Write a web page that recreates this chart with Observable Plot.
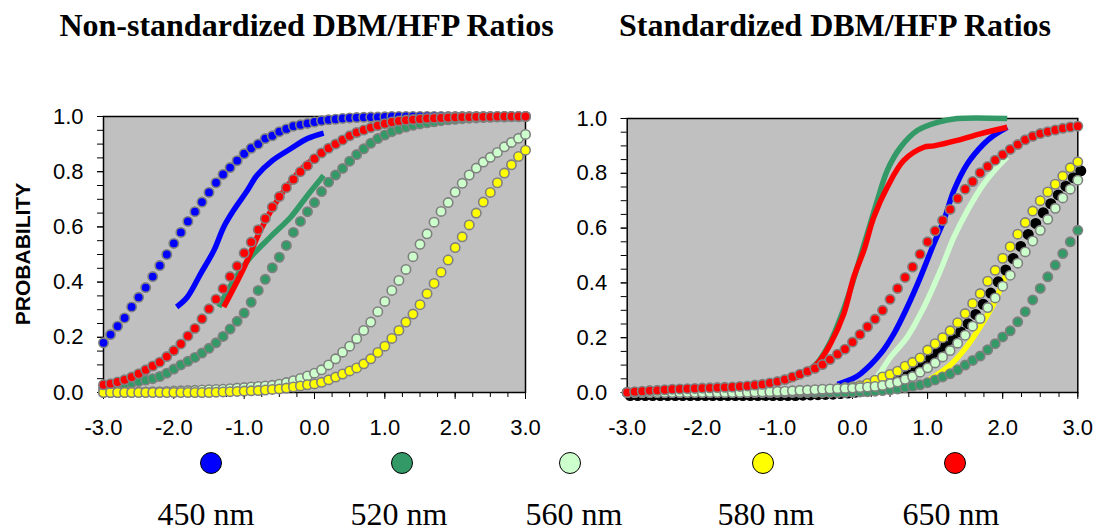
<!DOCTYPE html>
<html><head><meta charset="utf-8">
<script src="https://cdn.jsdelivr.net/npm/d3@7"></script>
<script src="https://cdn.jsdelivr.net/npm/@observablehq/plot@0.6"></script>
<style>
body{margin:0;background:#fff;}
#wrap{position:relative;width:1097px;height:531px;overflow:hidden;font-family:"Liberation Serif","Times New Roman",serif;color:#000;}
.title{position:absolute;top:9px;font-weight:bold;font-size:32px;line-height:32px;white-space:nowrap;transform:translateX(-50%);}
.panel{position:absolute;top:0;}
.ylab{position:absolute;left:22px;top:254px;transform:translate(-50%,-50%) rotate(-90deg);font-family:"Liberation Sans",Arial,sans-serif;font-weight:bold;font-size:21px;line-height:21px;white-space:nowrap;}
.sw{position:absolute;width:20px;height:20px;border:1.5px solid #000;border-radius:50%;top:451.5px;}
.lab{position:absolute;top:498px;width:200px;text-align:center;font-size:32px;line-height:32px;white-space:nowrap;}
</style>
</head><body>
<div id="wrap"></div>
<script>
// ---- axis ticks ----
const xTicks = [-3, -2, -1, 0, 1, 2, 3];
const xMinor = [-3,-2.75,-2.5,-2.25,-2,-1.75,-1.5,-1.25,-1,-0.75,-0.5,-0.25,0,0.25,0.5,0.75,1,1.25,1.5,1.75,2,2.25,2.5,2.75,3];
const yTicks = [0, 0.2, 0.4, 0.6, 0.8, 1.0];
const yMinor = [0,0.05,0.1,0.15,0.2,0.25,0.3,0.35,0.4,0.45,0.5,0.55,0.6,0.65,0.7,0.75,0.8,0.85,0.9,0.95,1];

// ---- categories ----
const titles = ["Non-standardized DBM/HFP Ratios", "Standardized DBM/HFP Ratios"];
const yLabel = "PROBABILITY";
const wavelengths = ["450 nm", "520 nm", "560 nm", "580 nm", "650 nm"];
const colors = ["#0000ff", "#339966", "#ccffcc", "#ffff00", "#ff0000"];

// ---- dot x positions (z-score) ----
const xs = [-3.0,-2.9,-2.8,-2.7,-2.6,-2.5,-2.4,-2.3,-2.2,-2.1,
  -2.0,-1.9,-1.8,-1.7,-1.6,-1.5,-1.4,-1.3,-1.2,-1.1,
  -1.0,-0.9,-0.8,-0.7,-0.6,-0.5,-0.4,-0.3,-0.2,-0.1,
  0.0,0.1,0.2,0.3,0.4,0.5,0.6,0.7,0.8,0.9,
  1.0,1.1,1.2,1.3,1.4,1.5,1.6,1.7,1.8,1.9,
  2.0,2.1,2.2,2.3,2.4,2.5,2.6,2.7,2.8,2.9,
  3.0];

// ---- left panel dots ----
const L450 = [.18,.21,.24,.27,.31,.345,.38,.42,.46,.50,
  .54,.58,.62,.655,.69,.725,.76,.79,.815,.84,
  .865,.885,.90,.92,.93,.945,.955,.965,.97,.975,
  .98,.985,.988,.99,.993,.995,.996,.997,.998,.998,
  .999,1,1,1,1,1,1,1,1,1,
  1,1,1,1,1,1,1,1,1,1,
  1];
const L520 = [.015,.02,.025,.03,.035,.04,.045,.05,.058,.07,
  .085,.10,.113,.127,.143,.16,.18,.203,.23,.258,
  .288,.327,.37,.41,.452,.49,.533,.58,.62,.655,
  .688,.728,.762,.788,.812,.838,.862,.883,.903,.92,
  .933,.945,.954,.962,.968,.973,.977,.981,.985,.988,
  .99,.992,.994,.995,.996,.997,.998,.998,.999,.999,
  1];
const L560 = [0,0,0,.001,.001,.002,.002,.003,.003,.004,
  .005,.006,.007,.008,.009,.01,.011,.012,.014,.016,
  .018,.02,.022,.024,.026,.03,.036,.043,.051,.06,
  .07,.082,.1,.122,.146,.168,.195,.225,.255,.293,
  .33,.37,.406,.446,.492,.537,.575,.617,.656,.688,
  .726,.758,.788,.813,.835,.852,.87,.89,.906,.921,
  .935];
const L580 = [0,0,0,0,0,0,0,0,0,0,
  0,0,0,0,0,0,.001,.002,.003,.004,
  .005,.006,.007,.009,.011,.013,.016,.02,.024,.028,
  .031,.037,.046,.056,.067,.078,.089,.104,.122,.145,
  .168,.196,.225,.255,.284,.318,.358,.395,.436,.48,
  .525,.564,.607,.65,.69,.725,.76,.795,.825,.855,
  .878];
const L650 = [.028,.032,.038,.046,.056,.068,.082,.096,.11,.13,
  .152,.176,.205,.232,.267,.303,.338,.376,.42,.458,
  .505,.545,.59,.63,.672,.71,.742,.772,.80,.822,
  .847,.868,.885,.90,.915,.93,.942,.951,.96,.967,
  .974,.98,.984,.987,.989,.991,.993,.994,.995,.996,
  .997,.998,.998,.999,.999,.999,1,1,1,1,
  1];

// ---- right panel dots ----
const R520 = [0,0,0,0,0,0,0,0,0,0,
  0,0,0,0,0,0,0,0,0,0,
  0,0,0,0,0,0,0,0,0,0,
  .001,.002,.003,.005,.007,.01,.013,.018,.022,.028,
  .036,.046,.057,.068,.083,.1,.117,.133,.156,.178,
  .203,.225,.258,.295,.338,.38,.422,.465,.507,.55,
  .592];
const R560 = [0,0,0,0,0,0,0,0,0,0,
  0,0,0,0,0,0,.001,.002,.002,.003,
  .004,.005,.006,.008,.009,.01,.012,.013,.014,.015,
  .016,.018,.02,.022,.026,.032,.038,.048,.058,.074,
  .09,.108,.13,.153,.18,.209,.242,.27,.31,.345,
  .388,.428,.472,.513,.553,.592,.632,.672,.71,.742,
  .775];
const R580 = [0,0,0,0,0,0,0,0,0,0,
  0,0,0,0,0,0,0,0,0,0,
  .002,.003,.004,.005,.006,.008,.01,.012,.015,.018,
  .021,.025,.033,.045,.057,.066,.078,.096,.11,.126,
  .155,.178,.20,.225,.255,.288,.325,.361,.406,.446,
  .49,.532,.578,.62,.662,.70,.732,.76,.79,.82,
  .842];
const R650 = [0,.003,.005,.007,.008,.01,.012,.013,.014,.015,
  .016,.017,.018,.019,.02,.022,.024,.027,.03,.035,
  .04,.047,.057,.067,.077,.088,.102,.12,.14,.158,
  .184,.212,.24,.268,.30,.34,.38,.42,.458,.505,
  .55,.59,.628,.668,.708,.742,.77,.802,.825,.848,
  .868,.887,.905,.922,.935,.945,.952,.958,.964,.969,
  .972];
const RBlack = [0,0,0,0,0,0,0,0,0,0,
  0,0,0,0,0,0,0,0,0,0,
  0,0,0,.001,.002,.003,.004,.005,.007,.009,
  .012,.016,.022,.03,.04,.05,.06,.075,.09,.108,
  .135,.158,.18,.205,.232,.262,.296,.333,.374,.415,
  .458,.5,.544,.588,.628,.667,.7,.732,.764,.795,
  .82];

// ---- left panel lines ----
const lineL450x = [-1.96,-1.81,-1.62,-1.43,-1.29,-1.15,-0.96,-0.82,-0.60,-0.34,-0.10,0.13];
const lineL450p = [0.31,0.345,0.43,0.515,0.60,0.66,0.73,0.786,0.84,0.883,0.92,0.94];
const lineL520x = [-1.36,-1.15,-0.91,-0.63,-0.34,-0.10,0.13];
const lineL520p = [0.31,0.405,0.49,0.563,0.635,0.714,0.786];
const lineL650x = [-1.29,-1.0,-0.77,-0.53,-0.29,-0.10,0.05];
const lineL650p = [0.31,0.454,0.587,0.696,0.78,0.83,0.855];

// ---- right panel lines ----
const lineR450x = [-0.2,0.0,0.107,0.373,0.55,0.728,0.905,1.083,1.216,1.35,1.53,1.75,1.88,2.06];
const lineR450p = [0.03,0.05,0.068,0.141,0.214,0.311,0.421,0.543,0.628,0.737,0.835,0.908,0.938,0.968];
const lineR520x = [-0.9,-0.7,-0.47,-0.3,-0.13,0.0,0.062,0.196,0.33,0.462,0.64,0.862,1.13,1.394,2.06];
const lineR520p = [0.04,0.062,0.108,0.182,0.295,0.40,0.457,0.579,0.70,0.81,0.895,0.956,0.986,1.0,1.0];
const lineR560x = [0.1,0.3,0.506,0.728,0.95,1.17,1.35,1.53,1.75,1.93,2.06];
const lineR560p = [0.02,0.05,0.129,0.202,0.311,0.445,0.567,0.664,0.762,0.822,0.859];
const lineR580x = [0.5,0.9,1.1,1.3,1.5,1.7,1.88,2.0,2.06];
const lineR580p = [0.01,0.03,0.06,0.1,0.16,0.24,0.324,0.40,0.44];
const lineR650x = [-0.9,-0.7,-0.47,-0.293,-0.116,0.017,0.15,0.284,0.462,0.683,0.95,1.083,1.394,1.7,2.06];
const lineR650p = [0.04,0.062,0.105,0.178,0.287,0.421,0.518,0.64,0.749,0.847,0.895,0.90,0.92,0.944,0.968];

const pairs = (X, P) => X.map((x, i) => ({x, p: P[i]}));
const fmt = d => d.toFixed(1);

function panel({width, marginLeft, marginRight, marginTop, lines, dots}) {
  return Plot.plot({
    width, height: 450, marginLeft, marginRight, marginTop, marginBottom: 58,
    x: {domain: [-3, 3]},
    y: {domain: [0, 1]},
    style: {fontFamily: "'Liberation Sans', Arial, sans-serif", background: "transparent", overflow: "visible", color: "#000"},
    marks: [
      Plot.frame({fill: "#c0c0c0"}),
      Plot.frame({stroke: "#000", strokeWidth: 1.5}),
      Plot.axisY({ticks: yMinor, tickSize: 6, tickFormat: () => "", label: null}),
      Plot.axisY({ticks: yTicks, tickSize: 6, tickPadding: 14, tickFormat: fmt, fontSize: 22, label: null}),
      Plot.axisX({ticks: xMinor, tickSize: 5, tickFormat: () => "", label: null}),
      Plot.axisX({ticks: xTicks, tickSize: 7, tickPadding: 20, tickFormat: fmt, fontSize: 22, label: null}),
      ...lines.map(l => Plot.line(pairs(l.x, l.p), {x: "x", y: "p", stroke: l.color, strokeWidth: 5.5, curve: "catmull-rom", strokeLinecap: "butt", strokeLinejoin: "round"})),
      ...dots.map(d => Plot.dot(pairs(xs, d.p), {x: "x", y: "p", r: 4.7, fill: d.color, stroke: d.stroke || "#808080", strokeWidth: 1.6, dx: d.dx || 0, dy: d.dy || 0}))
    ]
  });
}

const wrap = document.getElementById("wrap");

const left = panel({
  width: 545, marginLeft: 103, marginRight: 20, marginTop: 116,
  lines: [
    {x: lineL450x, p: lineL450p, color: colors[0]},
    {x: lineL520x, p: lineL520p, color: colors[1]},
    {x: lineL650x, p: lineL650p, color: colors[4]}
  ],
  dots: [
    {p: L450, color: colors[0]},
    {p: L520, color: colors[1]},
    {p: L560, color: colors[2]},
    {p: L580, color: colors[3]},
    {p: L650, color: colors[4]}
  ]
});
const right = panel({
  width: 557, marginLeft: 86.7, marginRight: 19.7, marginTop: 118,
  lines: [
    {x: lineR520x, p: lineR520p, color: colors[1]},
    {x: lineR450x, p: lineR450p, color: colors[0]},
    {x: lineR560x, p: lineR560p, color: colors[2]},
    {x: lineR580x, p: lineR580p, color: colors[3]},
    {x: lineR650x, p: lineR650p, color: colors[4]}
  ],
  dots: [
    {p: RBlack, color: "#000", stroke: "#000", dx: 3, dy: 3},
    {p: R520, color: colors[1]},
    {p: R580, color: colors[3]},
    {p: R560, color: colors[2]},
    {p: R650, color: colors[4]}
  ]
});

const d1 = document.createElement("div"); d1.className = "panel"; d1.style.left = "0px"; d1.appendChild(left); wrap.appendChild(d1);
const d2 = document.createElement("div"); d2.className = "panel"; d2.style.left = "540px"; d2.appendChild(right); wrap.appendChild(d2);

const titleX = [306.5, 835];
titles.forEach((t, i) => {
  const el = document.createElement("div"); el.className = "title"; el.textContent = t;
  el.style.left = titleX[i] + "px"; wrap.appendChild(el);
});
const yl = document.createElement("div"); yl.className = "ylab"; yl.textContent = yLabel; wrap.appendChild(yl);

const swatchX = [211, 402, 570.5, 763, 955];
const labelX = [206, 399, 574, 766, 951];
wavelengths.forEach((w, i) => {
  const s = document.createElement("div"); s.className = "sw";
  s.style.left = (swatchX[i] - 11.5) + "px"; s.style.background = colors[i]; wrap.appendChild(s);
  const l = document.createElement("div"); l.className = "lab"; l.textContent = w;
  l.style.left = (labelX[i] - 100) + "px"; wrap.appendChild(l);
});
</script>
</body></html>
